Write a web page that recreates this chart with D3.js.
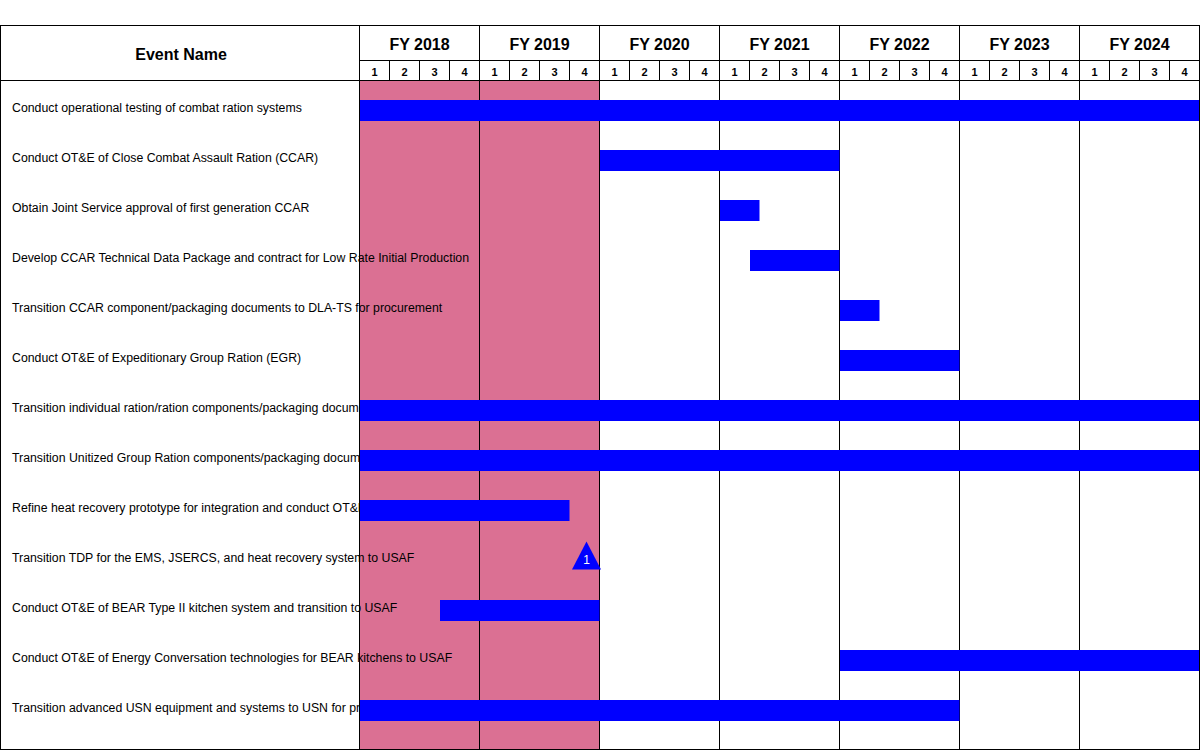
<!DOCTYPE html>
<html><head><meta charset="utf-8">
<script src="https://cdn.jsdelivr.net/npm/d3@7"></script>
<style>body{margin:0;background:#fff;} svg{display:block;font-family:"Liberation Sans",Arial,sans-serif;}</style>
</head><body>
<svg id="c" width="1200" height="750"></svg>
<script>
const fiscalYears = ["FY 2018","FY 2019","FY 2020","FY 2021","FY 2022","FY 2023","FY 2024"];
const quarterLabels = ["1","2","3","4"];
const events = [
  "Conduct operational testing of combat ration systems",
  "Conduct OT&E of Close Combat Assault Ration (CCAR)",
  "Obtain Joint Service approval of first generation CCAR",
  "Develop CCAR Technical Data Package and contract for Low Rate Initial Production",
  "Transition CCAR component/packaging documents to DLA-TS for procurement",
  "Conduct OT&E of Expeditionary Group Ration (EGR)",
  "Transition individual ration/ration components/packaging documents to DLA-TS for procurement",
  "Transition Unitized Group Ration components/packaging documents to DLA-TS for procurement",
  "Refine heat recovery prototype for integration and conduct OT&E",
  "Transition TDP for the EMS, JSERCS, and heat recovery system to USAF",
  "Conduct OT&E of BEAR Type II kitchen system and transition to USAF",
  "Conduct OT&E of Energy Conversation technologies for BEAR kitchens to USAF",
  "Transition advanced USN equipment and systems to USN for procurement"
];
// start / end in months from start of FY2018 (null = milestone)
const barStart = [0, 24, 36, 39, 48, 48, 0, 0, 0, null, 8, 48, 0];
const barEnd   = [84, 48, 40, 48, 52, 60, 84, 84, 21, null, 24, 84, 60];
const milestones = [{row: 9, month: 22.7, label: "1"}];
const shadedStart = 0, shadedEnd = 24; // months

const svg = d3.select("#c");
const x = d3.scaleLinear().domain([0, 84]).range([359.5, 1199.5]);
const y = d3.scaleLinear().domain([0, 1]).range([100, 150]);
const barH = 21;
const topY = 25.5, subY = 60.5, hdrBot = 80.5, botY = 749.5, leftCol = 359.5;

// shaded region
svg.append("rect").attr("x", x(shadedStart)).attr("y", hdrBot).attr("width", x(shadedEnd)-x(shadedStart)).attr("height", botY-hdrBot).attr("fill", "#DB7093");

// year grid lines in body and header
fiscalYears.forEach((fy,i)=>{
  const x0 = x(i*12);
  svg.append("line").attr("x1",x0).attr("x2",x0).attr("y1",topY).attr("y2",botY).attr("stroke","#000").attr("stroke-width",1);
  svg.append("text").attr("x",x0+60).attr("y",44).attr("text-anchor","middle").attr("dominant-baseline","central")
    .attr("font-size",16).attr("font-weight","bold").text(fy);
  quarterLabels.forEach((q,j)=>{
    const qx = x(i*12 + j*3);
    if(j>0) svg.append("line").attr("x1",qx).attr("x2",qx).attr("y1",subY).attr("y2",hdrBot).attr("stroke","#000");
    svg.append("text").attr("x",qx+15).attr("y",71.5).attr("text-anchor","middle").attr("dominant-baseline","central")
      .attr("font-size",11).attr("font-weight","bold").text(q);
  });
});
// header lines
svg.append("line").attr("x1",leftCol).attr("x2",1199.5).attr("y1",subY).attr("y2",subY).attr("stroke","#000");
svg.append("line").attr("x1",0).attr("x2",1199.5).attr("y1",hdrBot).attr("y2",hdrBot).attr("stroke","#000");
svg.append("text").attr("x",181).attr("y",54).attr("text-anchor","middle").attr("dominant-baseline","central")
  .attr("font-size",16).attr("font-weight","bold").text("Event Name");

// labels
const rowTop = i => y(i);
svg.selectAll("text.lbl").data(events).join("text").attr("class","lbl")
  .attr("x",12).attr("y",(d,i)=>rowTop(i)+7.5).attr("dominant-baseline","central")
  .attr("font-size",12.3).attr("fill","#000").text(d=>d);

// bars
const barData = events.map((e,i)=>({i, s: barStart[i], e: barEnd[i]})).filter(d=>d.s!==null);
svg.selectAll("rect.bar").data(barData).join("rect").attr("class","bar")
  .attr("x",d=>x(d.s)+0.5).attr("y",d=>rowTop(d.i)).attr("width",d=>x(d.e)-x(d.s)-0.5).attr("height",barH).attr("fill","#0000FF");

// milestones
milestones.forEach(m=>{
  const cx = x(m.month), by = rowTop(m.row)+barH-1.5, h = 28, w = 29;
  svg.append("path").attr("d",`M${cx-w/2},${by} L${cx},${by-h} L${cx+w/2},${by} Z`).attr("fill","#0000FF");
  svg.append("text").attr("x",cx).attr("y",by-10).attr("text-anchor","middle").attr("dominant-baseline","central")
    .attr("font-size",12).attr("fill","#fff").text(m.label);
});

// outer border
svg.append("rect").attr("x",0.5).attr("y",topY).attr("width",1199).attr("height",botY-topY).attr("fill","none").attr("stroke","#000");
</script>
</body></html>
